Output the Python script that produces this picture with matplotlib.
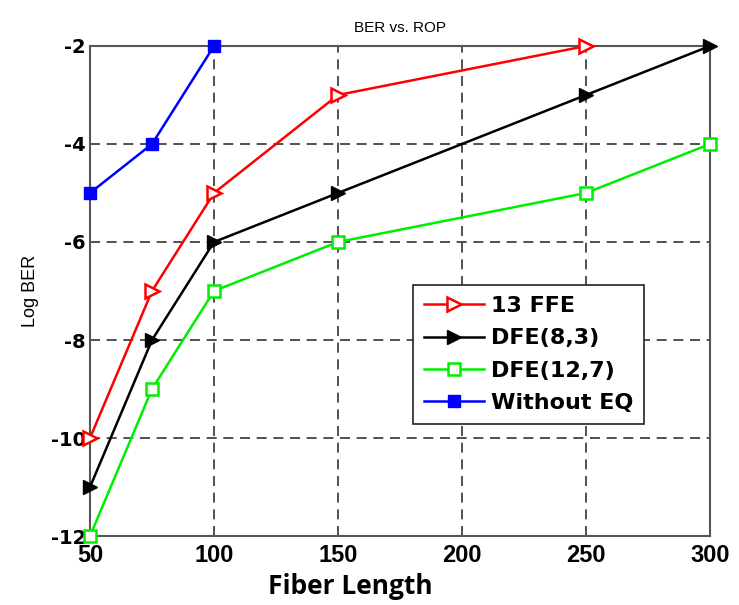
import matplotlib
matplotlib.use('Agg')
import matplotlib.pyplot as plt

x_ffe = [50, 75, 100, 150, 250]
y_ffe = [-10, -7, -5, -3, -2]
x_dfe83 = [50, 75, 100, 150, 250, 300]
y_dfe83 = [-11, -8, -6, -5, -3, -2]
x_dfe127 = [50, 75, 100, 150, 250, 300]
y_dfe127 = [-12, -9, -7, -6, -5, -4]
x_noeq = [50, 75, 100]
y_noeq = [-5, -4, -2]

xticks = [50, 100, 150, 200, 250, 300]
yticks = [-12, -10, -8, -6, -4, -2]

plt.rcParams['font.family'] = ['Liberation Sans', 'DejaVu Sans']
plt.rcParams['axes.unicode_minus'] = False

fig = plt.figure(figsize=(7.39, 6.05), dpi=100)
ax = fig.add_axes([0.1218, 0.114, 0.8390, 0.810])

ax.plot(x_ffe, y_ffe, color='red', lw=1.8, marker='>', ms=10,
        mfc='white', mec='red', mew=1.8, label='13 FFE', clip_on=False, zorder=5)
ax.plot(x_dfe83, y_dfe83, color='black', lw=1.8, marker='>', ms=10,
        mfc='black', mec='black', label='DFE(8,3)', clip_on=False, zorder=5)
ax.plot(x_dfe127, y_dfe127, color='#00ee00', lw=1.8, marker='s', ms=9,
        mfc='white', mec='#00ee00', mew=1.8, label='DFE(12,7)', clip_on=False, zorder=5)
ax.plot(x_noeq, y_noeq, color='blue', lw=1.8, marker='s', ms=9,
        mfc='blue', mec='blue', label='Without EQ', clip_on=False, zorder=5)

ax.set_xlim(50, 300)
ax.set_ylim(-12, -2)
ax.set_xticks(xticks)
ax.set_yticks(yticks)
ax.tick_params(axis='both', direction='in', length=0)
ax.tick_params(axis='x', pad=6)
ax.tick_params(axis='y', pad=3)
for lab in ax.get_xticklabels():
    lab.set_fontweight('bold')
    lab.set_fontsize(17)
for lab in ax.get_yticklabels():
    lab.set_family(['DejaVu Sans'])
    lab.set_fontweight('bold')
    lab.set_fontsize(14)
ax.grid(True, color='#333333', linestyle=(0, (6, 4)), lw=1.2)
for s in ax.spines.values():
    s.set_color('#555555')
    s.set_linewidth(1.5)

ax.set_title('BER vs. ROP', fontsize=11, pad=10)
ax.set_ylabel('Log BER', fontsize=13, labelpad=8)
fig.text(350 / 739, 1 - 586 / 605, 'Fiber Length', fontsize=19, fontweight='bold',
         family=['Open Sans', 'DejaVu Sans'], ha='center', va='center')

leg = ax.legend(loc='upper left', bbox_to_anchor=(0.521, 0.512), borderaxespad=0,
                prop={'family': 'DejaVu Sans', 'weight': 'bold', 'size': 16},
                frameon=True, fancybox=False, handlelength=2.7, borderpad=0.5,
                labelspacing=0.55, handletextpad=0.3)
leg.get_frame().set_edgecolor('#222222')
leg.get_frame().set_linewidth(1.2)
leg.get_frame().set_alpha(1)

fig.savefig('out.png', dpi=100)
